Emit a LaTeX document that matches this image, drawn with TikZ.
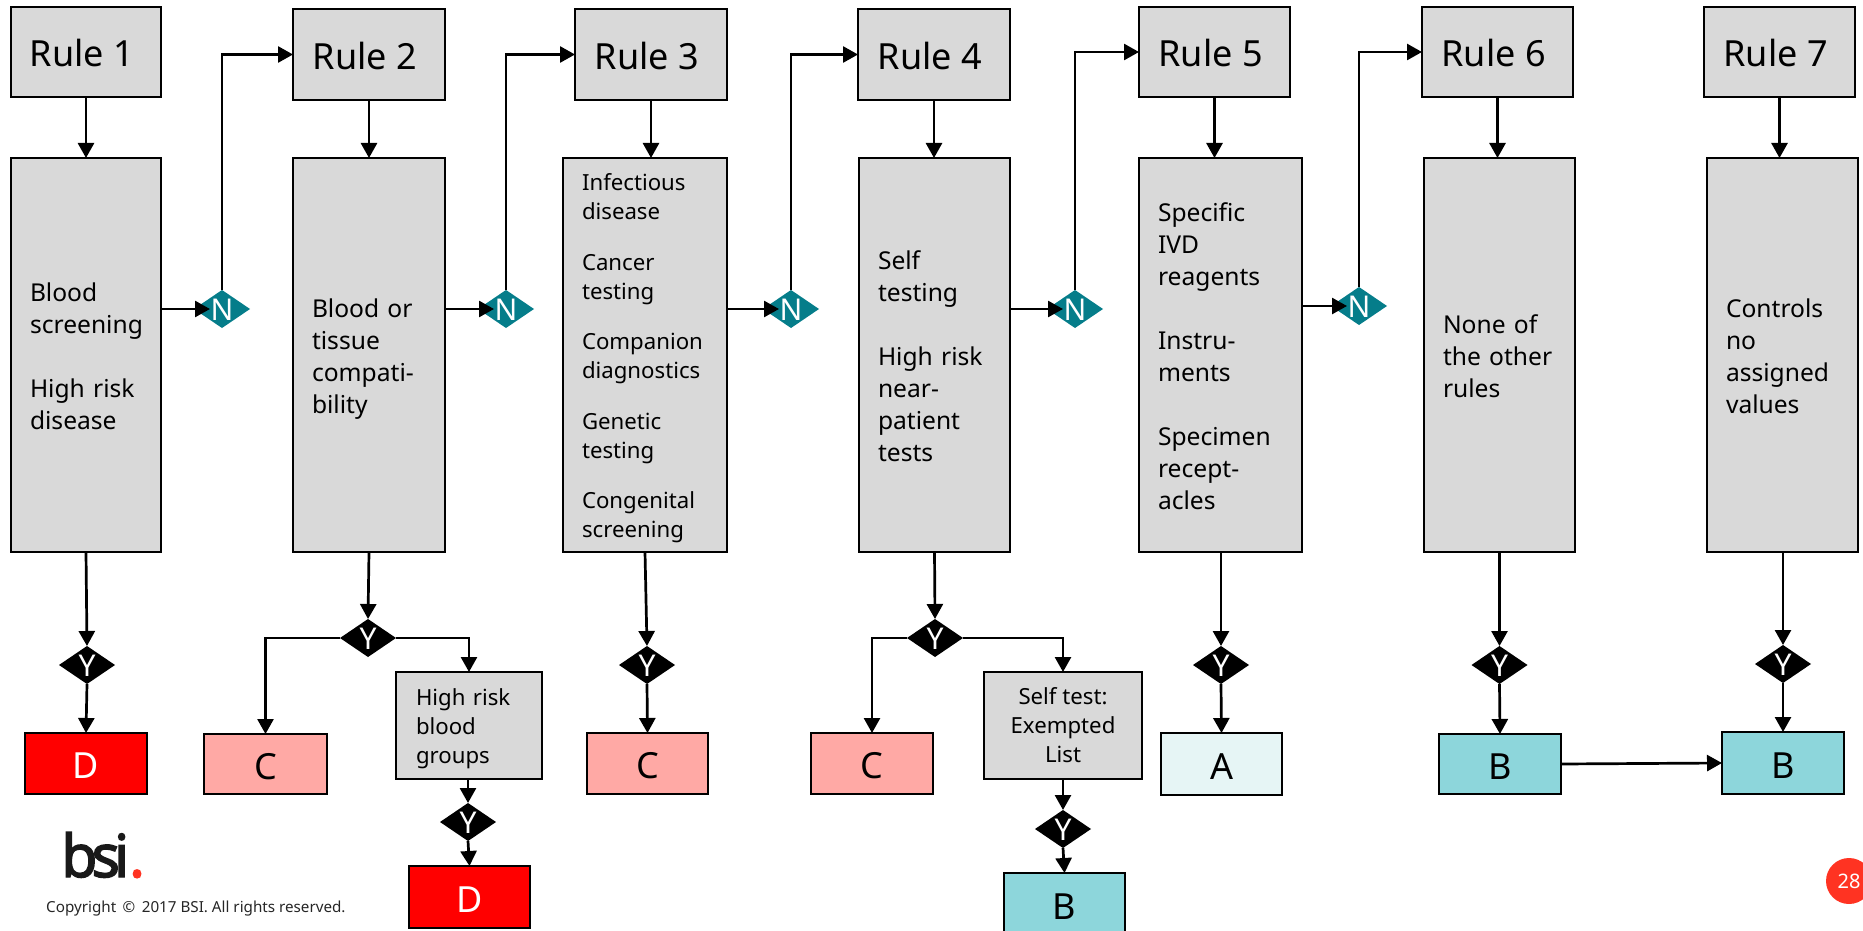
\documentclass[tikz,border=0pt]{standalone}
\usepackage{fontspec}
\setmainfont{Noto Sans}
\newfontfamily\logofont[FakeBold=2.4,LetterSpace=-10]{Noto Sans}
\usetikzlibrary{arrows.meta,shapes.geometric}
\definecolor{boxgray}{HTML}{D9D9D9}
\definecolor{nteal}{HTML}{057D8A}
\definecolor{classc}{HTML}{FFA9A5}
\definecolor{classb}{HTML}{8DD6DB}
\definecolor{classa}{HTML}{E6F5F5}
\definecolor{dotred}{HTML}{FF3322}
\newcommand{\bx}[7]{% name, x0,y0,x1,y1, style, text
  \pgfmathsetmacro{\bxw}{#4-#2}\pgfmathsetmacro{\bxh}{#5-#3}
  \node[boxbase,#6,minimum width=\bxw pt,minimum height=\bxh pt] (#1) at ({(#2+#4)/2},{(#3+#5)/2}) {#7};}
\newcommand{\bigbx}[6]{% name,x0,x1,inset,style,text
  \pgfmathsetmacro{\bxw}{#3-#2-2*#4}
  \node[boxbase,fill=boxgray,minimum width={(#3-#2)*1pt},minimum height=394pt,inner sep=0pt,text width=\bxw pt,align=left,#5] (#1) at ({(#2+#3)/2},355) {#6};}
\newcommand{\dm}[1]{\makebox[0pt]{\raisebox{-.38em}[0pt][0pt]{#1}}}
\newcommand{\rt}[1]{\raisebox{-15pt}[0pt][0pt]{#1\hspace{8pt}}}
\newcommand{\cl}[1]{\raisebox{-15pt}[0pt][0pt]{#1}}
\newcommand{\tp}[1]{\rule{0pt}{#1pt}}
\tikzset{
  x=1pt,y=-1pt,
  boxbase/.style={draw=black,line width=2.7pt,rectangle,outer sep=0pt,inner sep=0pt},
  rulebox/.style={fill=boxgray,font=\fontsize{36}{40}\selectfont},
  normaltext/.style={font=\fontsize{24.6}{32}\selectfont},
  smalltext/.style={font=\fontsize{22.2}{29}\selectfont},
  classtext/.style={font=\fontsize{36}{40}\selectfont},
  yesdia/.style={diamond,fill=black,text=white,inner sep=0pt,outer sep=0pt,minimum width=56pt,minimum height=38pt,font=\fontsize{30}{32}\selectfont},
  nodia/.style={diamond,fill=nteal,text=white,inner sep=0pt,outer sep=0pt,minimum width=56pt,minimum height=38pt,font=\fontsize{30}{32}\selectfont},
  conn/.style={line width=2.7pt,-{Triangle[length=15pt,width=16pt]}},
}
\begin{document}
\begin{tikzpicture}
\useasboundingbox (0,0) rectangle (1863,931);
% rules
\bx{r1}{11}{7}{161}{97}{rulebox}{\rt{Rule 1}}
\bx{r2}{293}{9}{445}{100}{rulebox}{\rt{Rule 2}}
\bx{r3}{575}{9}{727}{100}{rulebox}{\rt{Rule 3}}
\bx{r4}{858}{9}{1010}{100}{rulebox}{\rt{Rule 4}}
\bx{r5}{1139}{7}{1290}{97}{rulebox}{\rt{Rule 5}}
\bx{r6}{1422}{7}{1573}{97}{rulebox}{\rt{Rule 6}}
\bx{r7}{1704}{7}{1855}{97}{rulebox}{\rt{Rule 7}}
% big boxes
\bigbx{b1}{11}{161}{19}{normaltext}{\tp{21}Blood\\screening\\[32pt]High risk\\disease}
\bigbx{b2}{293}{445}{19}{normaltext}{\tp{26}Blood or\\tissue\\compati-\\bility}
\bigbx{b3}{563}{727}{19}{smalltext}{\tp{24}Infectious\\disease\\[21.5pt]Cancer\\testing\\[21.5pt]Companion\\diagnostics\\[21.5pt]Genetic\\testing\\[21.5pt]Congenital\\screening}
\bigbx{b4}{859}{1010}{19}{normaltext}{\tp{21}Self\\testing\\[32pt]High risk\\near-\\patient\\tests}
\bigbx{b5}{1139}{1302}{19}{normaltext}{\tp{21}Specific\\IVD\\reagents\\[32pt]Instru-\\ments\\[32pt]Specimen\\recept-\\acles}
\bigbx{b6}{1424}{1575}{19}{normaltext}{\tp{21}None of\\the other\\rules}
\bigbx{b7}{1707}{1858}{19}{normaltext}{\tp{21}Controls\\no\\assigned\\values}
% N diamonds
\node[nodia] (n1) at (222,309) {\dm{N}};
\node[nodia] (n2) at (506,309) {\dm{N}};
\node[nodia] (n3) at (791,309) {\dm{N}};
\node[nodia] (n4) at (1075,309) {\dm{N}};
\node[nodia] (n5) at (1359,306) {\dm{N}};
% Y diamonds
\node[yesdia] (y1) at (87,665) {\dm{Y}};
\node[yesdia] (y2) at (368,638) {\dm{Y}};
\node[yesdia] (y2b) at (468,822) {\dm{Y}};
\node[yesdia] (y3) at (647,665) {\dm{Y}};
\node[yesdia] (y4) at (935,638) {\dm{Y}};
\node[yesdia] (y4b) at (1063,829) {\dm{Y}};
\node[yesdia] (y5) at (1221,665) {\dm{Y}};
\node[yesdia] (y6) at (1499.5,665) {\dm{Y}};
\node[yesdia] (y7) at (1783,664) {\dm{Y}};
% class boxes
\bx{d1}{25}{733}{147}{794}{fill=red,text=white,classtext}{\cl{D}}
\bx{c2}{204}{734}{327}{794}{fill=classc,classtext}{\cl{C}}
\bx{hr}{396}{672}{542}{779}{fill=boxgray,smalltext,align=left,text width=106pt}{\tp{24}High risk\\blood\\groups}
\bx{d2}{409}{866}{530}{928}{fill=red,text=white,classtext}{\cl{D}}
\bx{c3}{587}{733}{708}{794}{fill=classc,classtext}{\cl{C}}
\bx{c4}{811}{733}{933}{794}{fill=classc,classtext}{\cl{C}}
\bx{st}{984}{672}{1142}{779}{fill=boxgray,smalltext,align=center}{Self test:\\Exempted\\List}
\bx{b4b}{1004}{873}{1125}{935}{fill=classb,classtext}{\cl{B}}
\bx{a5}{1161}{733}{1282}{795}{fill=classa,classtext}{\cl{A}}
\bx{b6b}{1439}{734}{1561}{794}{fill=classb,classtext}{\cl{B}}
\bx{b7b}{1722}{732}{1844}{794}{fill=classb,classtext}{\cl{B}}
% connectors rule -> box
\foreach \i in {1,...,7}{ \draw[conn] (r\i.south) -- (r\i.south |- b\i.north); }
% box -> N
\foreach \i/\k in {1/1,2/2,3/3,4/4}{ \draw[conn] (b\i.east |- n\k.west) -- ([xshift=16pt]n\k.west); }
\draw[conn] (b5.east |- n5.west) -- ([xshift=16pt]n5.west);
% N -> next rule
\draw[conn] (n1.north) |- (r2.west);
\draw[conn] (n2.north) |- (r3.west);
\draw[conn] (n3.north) |- (r4.west);
\draw[conn] (n4.north) |- (r5.west);
\draw[conn] (n5.north) |- (r6.west);
% box -> Y
\draw[conn] (b1.south) -- (y1.north);
\draw[conn] (b2.south) -- (y2.north);
\draw[conn] (b3.south) -- (y3.north);
\draw[conn] (b4.south) -- (y4.north);
\draw[conn] (b5.south -| y5.north) -- (y5.north);
\draw[conn] (b6.south -| y6.north) -- (y6.north);
\draw[conn] (b7.south -| y7.north) -- (y7.north);
% Y -> class
\draw[conn] (y1.south) -- (d1.north);
\draw[conn] (y2.west) -| (c2.north);
\draw[conn] (y2.east) -| (hr.north);
\draw[conn] (hr.south -| y2b.north) -- (y2b.north);
\draw[conn] (y2b.south) -- (d2.north);
\draw[conn] (y3.south) -- (c3.north);
\draw[conn] (y4.west) -| (c4.north);
\draw[conn] (y4.east) -| (st.north);
\draw[conn] (st.south -| y4b.north) -- (y4b.north);
\draw[conn] (y4b.south) -- (b4b.north);
\draw[conn] (y5.south) -- (a5.north);
\draw[conn] (y6.south) -- (b6b.north);
\draw[conn] (y7.south) -- (b7b.north);
\draw[conn] (b6b.east) -- (b7b.west);
% footer
\node[inner sep=0pt,anchor=base west,font=\logofont\fontsize{59}{60}\selectfont,text=black!90] (logo) at (61,877) {bsi\textcolor{dotred}{.}};
\node[inner sep=0pt,anchor=base west,font=\fontsize{15.2}{18}\selectfont,text=black!85] (copy) at (46,912) {Copyright \,©\, 2017 BSI. All rights reserved.};
\node[circle,fill=dotred,minimum size=46pt,inner sep=0pt,text=white,font=\fontsize{20}{22}\selectfont] (page) at (1849,881) {28};
\end{tikzpicture}
\end{document}
